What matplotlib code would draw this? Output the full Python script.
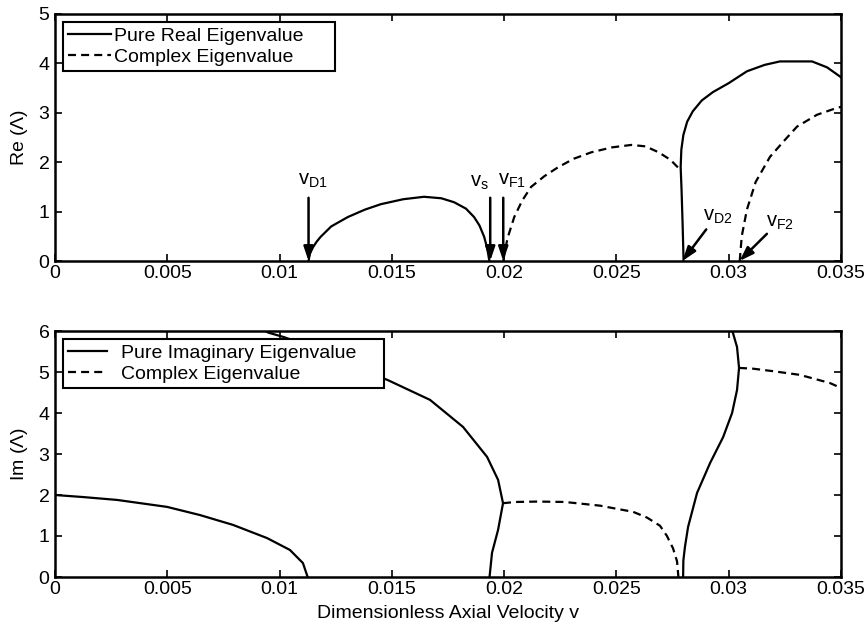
import matplotlib
matplotlib.use('Agg')
import matplotlib.pyplot as plt

plt.rcParams['font.family'] = ['Liberation Sans', 'DejaVu Sans']
plt.rcParams['mathtext.fontset'] = 'custom'
plt.rcParams['mathtext.rm'] = 'Liberation Sans'
plt.rcParams['font.size'] = 14

# ---------------- data ----------------
x_ticks = [0, 0.005, 0.01, 0.015, 0.02, 0.025, 0.03, 0.035]
x_tick_labels = ['0', '0.005', '0.01', '0.015', '0.02', '0.025', '0.03', '0.035']
re_ticks = [0, 1, 2, 3, 4, 5]
im_ticks = [0, 1, 2, 3, 4, 5, 6]

# Top panel: Re(Lambda)
re_real1_x = [0.01129, 0.01135, 0.01149, 0.01165, 0.01183, 0.0123, 0.01304, 0.0138,
              0.01451, 0.0155, 0.01643, 0.0172, 0.01777, 0.0183, 0.01866, 0.0189,
              0.01911, 0.01925, 0.01932, 0.01935]
re_real1_y = [0, 0.15, 0.28, 0.39, 0.49, 0.7, 0.89, 1.04, 1.15, 1.25, 1.30, 1.27,
              1.19, 1.06, 0.89, 0.72, 0.49, 0.25, 0.06, 0]

re_cplx1_x = [0.01996, 0.02005, 0.02017, 0.02045, 0.0208, 0.0212, 0.0218, 0.02241,
              0.0231, 0.02388, 0.0248, 0.02567, 0.0263, 0.02688, 0.0274, 0.02777]
re_cplx1_y = [0, 0.25, 0.49, 0.89, 1.22, 1.50, 1.72, 1.90, 2.07, 2.20, 2.30, 2.35,
              2.32, 2.20, 2.05, 1.88]

re_real2_x = [0.02799, 0.02795, 0.0279, 0.02786, 0.02789, 0.02798, 0.02815, 0.0284,
              0.0288, 0.0293, 0.0300, 0.03081, 0.0316, 0.03228, 0.03371, 0.03438, 0.035]
re_real2_y = [0, 0.7, 1.44, 1.9, 2.25, 2.55, 2.82, 3.03, 3.25, 3.42, 3.6, 3.84, 3.97,
              4.04, 4.04, 3.92, 3.72]

re_cplx2_x = [0.03049, 0.03058, 0.03081, 0.0312, 0.03184, 0.0325, 0.03304, 0.03393,
              0.03482, 0.035]
re_cplx2_y = [0, 0.5, 1.04, 1.6, 2.11, 2.45, 2.72, 2.96, 3.1, 3.12]

# Bottom panel: Im(Lambda)
im_real1_x = [0, 0.00125, 0.00276, 0.00499, 0.00646, 0.00793, 0.00944, 0.01046,
              0.01104, 0.01125]
im_real1_y = [2.0, 1.95, 1.88, 1.71, 1.51, 1.27, 0.95, 0.66, 0.34, 0]

im_real2_x = [0.0092, 0.0095, 0.0102, 0.0115, 0.013, 0.01483, 0.0167, 0.01817,
              0.01924, 0.01973, 0.01995, 0.01973, 0.01946, 0.01935]
im_real2_y = [6.05, 5.96, 5.85, 5.6, 5.22, 4.80, 4.32, 3.66, 2.93, 2.37, 1.80,
              1.15, 0.59, 0]

im_cplx1_x = [0.01995, 0.0205, 0.0215, 0.0227, 0.02427, 0.02485, 0.02574, 0.02636,
              0.02694, 0.02725, 0.02752, 0.0277, 0.02776]
im_cplx1_y = [1.80, 1.83, 1.84, 1.83, 1.74, 1.68, 1.59, 1.45, 1.25, 1.0, 0.7, 0.38, 0]

im_real3_x = [0.02797, 0.02798, 0.02805, 0.02819, 0.02859, 0.02917, 0.02975, 0.03015,
              0.03037, 0.03046, 0.03037, 0.03019, 0.03012]
im_real3_y = [0, 0.4, 0.73, 1.22, 2.05, 2.78, 3.41, 4.0, 4.56, 5.1, 5.61, 5.95, 6.05]

im_cplx2_x = [0.03046, 0.0311, 0.03197, 0.03317, 0.03451, 0.035]
im_cplx2_y = [5.1, 5.08, 5.02, 4.93, 4.73, 4.61]

# Critical-velocity annotations (label, arrow head, arrow tail, label position)
crit_labels = [r'$\mathregular{v_{D1}}$', r'$\mathregular{v_{s}}$', r'$\mathregular{v_{F1}}$',
               r'$\mathregular{v_{D2}}$', r'$\mathregular{v_{F2}}$']
crit_heads = [(0.01129, 0), (0.01938, 0), (0.01996, 0), (0.02794, 0), (0.03048, 0)]
crit_tails = [(0.01129, 1.28), (0.01938, 1.28), (0.01996, 1.28), (0.0290, 0.64), (0.0317, 0.55)]
crit_text = [(0.01080, 1.54), (0.01846, 1.50), (0.01972, 1.54), (0.02884, 0.82), (0.03164, 0.70)]

legend_top = ['Pure Real Eigenvalue', 'Complex Eigenvalue']
legend_bot = ['Pure Imaginary Eigenvalue', 'Complex Eigenvalue']

# ---------------- drawing ----------------
fig = plt.figure(figsize=(8.67, 6.29), dpi=100)
ax1 = fig.add_axes([55 / 867, 1 - 261 / 629, 786 / 867, 247 / 629])
ax2 = fig.add_axes([55 / 867, 1 - 577 / 629, 786 / 867, 246 / 629])

lw = 1.6
dash = (0, (3.6, 2.3))

ax1.plot(re_real1_x, re_real1_y, 'k-', lw=lw, label=legend_top[0] + '     ')
ax1.plot(re_cplx1_x, re_cplx1_y, 'k', ls=dash, lw=lw, label=legend_top[1])
ax1.plot(re_real2_x, re_real2_y, 'k-', lw=lw)
ax1.plot(re_cplx2_x, re_cplx2_y, 'k', ls=dash, lw=lw)

ax2.plot(im_real1_x, im_real1_y, 'k-', lw=lw, label=legend_bot[0] + '    ')
ax2.plot(im_cplx1_x, im_cplx1_y, 'k', ls=dash, lw=lw, label=legend_bot[1])
ax2.plot(im_real2_x, im_real2_y, 'k-', lw=lw)
ax2.plot(im_real3_x, im_real3_y, 'k-', lw=lw)
ax2.plot(im_cplx2_x, im_cplx2_y, 'k', ls=dash, lw=lw)

for lab, head, tail, tpos in zip(crit_labels, crit_heads, crit_tails, crit_text):
    ax1.annotate('', xy=head, xytext=tail,
                 arrowprops=dict(arrowstyle='-|>,head_length=0.5,head_width=0.17',
                                 lw=1.8, color='k', mutation_scale=17,
                                 shrinkA=0, shrinkB=0))
    ax1.text(tpos[0], tpos[1], lab, ha='left', va='baseline', fontsize=14.5)

for ax, yt, ymax, lab, hl, htp in [(ax1, re_ticks, 5, r'Re ($\mathregular{\Lambda}$)', 2.2, 0.15),
                                   (ax2, im_ticks, 6, r'Im ($\mathregular{\Lambda}$)', 2.0, 0.75)]:
    ax.set_xlim(0, 0.035)
    ax.set_ylim(0, ymax)
    ax.set_xticks(x_ticks)
    ax.set_xticklabels(x_tick_labels)
    ax.set_yticks(yt)
    ax.tick_params(direction='in', top=True, right=True, length=5, width=1.2,
                   labelsize=14)
    ax.tick_params(axis='x', pad=3)
    ax.tick_params(axis='y', pad=4)
    for s in ax.spines.values():
        s.set_linewidth(1.8)
    ax.set_ylabel(lab, fontsize=14, labelpad=6)
    leg = ax.legend(loc='upper left', fancybox=False, framealpha=1, edgecolor='k',
                    borderaxespad=0.4, borderpad=0.27, labelspacing=0.17,
                    handlelength=hl, handletextpad=htp, fontsize=14)
    leg.get_frame().set_linewidth(1.5)

ax2.set_xlabel('Dimensionless Axial Velocity v', fontsize=14, labelpad=5)

fig.savefig('out.png', dpi=100)
